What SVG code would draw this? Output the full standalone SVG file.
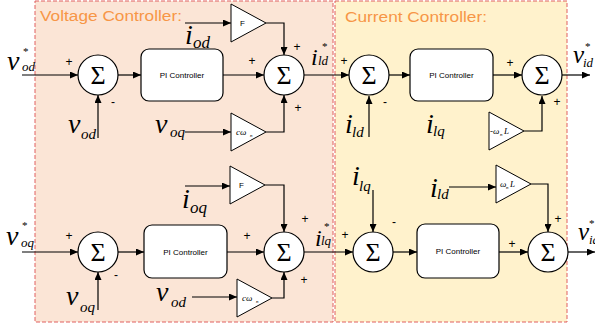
<svg xmlns="http://www.w3.org/2000/svg" width="595" height="330" viewBox="0 0 595 330">
<defs>
<marker id="ar" markerUnits="userSpaceOnUse" markerWidth="8" markerHeight="7" refX="8" refY="3.5" orient="auto"><path d="M0,0 L8,3.5 L0,7 z" fill="#000"/></marker>
<style>
.ln{stroke:#000;stroke-width:1.2;fill:none}
.ar{marker-end:url(#ar)}
.sum{fill:#fff;stroke:#000;stroke-width:1.2}
.pi{fill:#fff;stroke:#000;stroke-width:1.2}
.tri{fill:#fff;stroke:#000;stroke-width:1}
.sig{font-family:"Liberation Serif",serif;font-size:26px;text-anchor:middle}
.pit{font-family:"Liberation Sans",sans-serif;font-size:8px;text-anchor:middle}
.v{font-family:"Liberation Serif",serif;font-style:italic;font-size:28px}
.s{font-family:"Liberation Serif",serif;font-style:italic;font-size:15px}
.st{font-family:"Liberation Serif",serif;font-size:11px}
.pm{font-family:"Liberation Sans",sans-serif;font-size:12px;text-anchor:middle}
.g{font-family:"Liberation Serif",serif;font-style:italic;font-size:9px}
.gs{font-family:"Liberation Serif",serif;font-style:italic;font-size:5px}
.ttl{font-family:"Liberation Sans",sans-serif;font-size:15.5px;fill:#f79646}
</style>
</defs>
<g id="voltage-controller"><rect x="35" y="1" width="298" height="321" fill="#fbe5d6" stroke="#e06060" stroke-width="1" stroke-dasharray="4,2"/><text class="ttl" x="40" y="21" textLength="142" lengthAdjust="spacingAndGlyphs">Voltage Controller:</text></g>
<g id="current-controller"><rect x="335" y="1" width="232" height="321" fill="#fff2cc" stroke="#e06060" stroke-width="1" stroke-dasharray="4,2"/><text class="ttl" x="345" y="22" textLength="142" lengthAdjust="spacingAndGlyphs">Current Controller:</text></g>

<g id="connectors">
<path class="ln ar" d="M22,75 H78"/>
<path class="ln ar" d="M98,138 V95"/>
<path class="ln ar" d="M118,75 H141"/>
<path class="ln ar" d="M223,75 H264"/>
<path class="ln ar" d="M185,23 H231"/>
<path class="ln ar" d="M266,23 H284 V55"/>
<path class="ln ar" d="M185,132 H231"/>
<path class="ln ar" d="M266,132 H284 V95"/>
<path class="ln ar" d="M304,75 H349"/>
<path class="ln ar" d="M369,137 V96"/>
<path class="ln ar" d="M389,75 H410"/>
<path class="ln ar" d="M493,75 H522"/>
<path class="ln ar" d="M524,131 H542 V96"/>
<path class="ln ar" d="M562,75 H590"/>
<path class="ln ar" d="M22,252 H78"/>
<path class="ln ar" d="M98,310 V272"/>
<path class="ln ar" d="M118,252 H144"/>
<path class="ln ar" d="M227,252 H264"/>
<path class="ln ar" d="M185,186 H230"/>
<path class="ln ar" d="M265,185 H284 V232"/>
<path class="ln ar" d="M192,297 H237"/>
<path class="ln ar" d="M272,298 H284 V272"/>
<path class="ln ar" d="M304,252 H353"/>
<path class="ln ar" d="M373,190 V232"/>
<path class="ln ar" d="M393,252 H417"/>
<path class="ln ar" d="M449,187 H496"/>
<path class="ln ar" d="M499,252 H528"/>
<path class="ln ar" d="M531,184 H548 V232"/>
<path class="ln ar" d="M568,252 H595"/>
</g>

<g id="sum1"><circle class="sum" cx="98" cy="75" r="20"/><text class="sig" x="98" y="84">Σ</text><text class="pm" x="69" y="66">+</text><text class="pm" x="113" y="106">-</text></g>
<g id="pi1"><rect class="pi" x="141" y="49" width="82" height="52" rx="8"/><text class="pit" x="182" y="78">PI Controller</text></g>
<g id="sum2"><circle class="sum" cx="284" cy="75" r="20"/><text class="sig" x="284" y="84">Σ</text><text class="pm" x="252" y="65">+</text><text class="pm" x="297" y="51">+</text><text class="pm" x="298" y="112">+</text></g>
<g id="gainF1"><path class="tri" d="M231,4 L231,42 L266,23 z"/><text x="240" y="26" style="font-family:'Liberation Sans',sans-serif;font-size:8px">F</text></g>
<g id="gainC1"><path class="tri" d="M231,113 L231,151 L266,132 z"/><text class="g" x="236" y="135">cω</text><text class="gs" x="250" y="137">n</text></g>
<g id="sum3"><circle class="sum" cx="369" cy="75" r="20"/><text class="sig" x="369" y="84">Σ</text><text class="pm" x="344" y="65">+</text><text class="pm" x="385" y="106">-</text></g>
<g id="pi2"><rect class="pi" x="410" y="49" width="83" height="52" rx="8"/><text class="pit" x="451.5" y="78">PI Controller</text></g>
<g id="sum4"><circle class="sum" cx="542" cy="75" r="20"/><text class="sig" x="542" y="84">Σ</text><text class="pm" x="510" y="67">+</text><text class="pm" x="557" y="106">+</text></g>
<g id="gainW1"><path class="tri" d="M489,112 L489,150 L524,131 z"/><text class="g" x="490" y="134">-ω</text><text class="gs" x="500" y="136">n</text><text class="g" x="504" y="134">L</text></g>

<g id="sum5"><circle class="sum" cx="98" cy="252" r="20"/><text class="sig" x="98" y="261">Σ</text><text class="pm" x="69" y="240">+</text><text class="pm" x="116" y="279">-</text></g>
<g id="pi3"><rect class="pi" x="144" y="225" width="83" height="53" rx="8"/><text class="pit" x="185.5" y="255">PI Controller</text></g>
<g id="sum6"><circle class="sum" cx="284" cy="252" r="20"/><text class="sig" x="284" y="261">Σ</text><text class="pm" x="247" y="240">+</text><text class="pm" x="305" y="223">+</text><text class="pm" x="304" y="284">+</text></g>
<g id="gainF2"><path class="tri" d="M230,166 L230,204 L265,185 z"/><text x="239" y="188" style="font-family:'Liberation Sans',sans-serif;font-size:8px">F</text></g>
<g id="gainC2"><path class="tri" d="M237,279 L237,317 L272,298 z"/><text class="g" x="242" y="301">cω</text><text class="gs" x="256" y="303">n</text></g>
<g id="sum7"><circle class="sum" cx="373" cy="252" r="20"/><text class="sig" x="373" y="261">Σ</text><text class="pm" x="345" y="239">+</text><text class="pm" x="394" y="226">-</text></g>
<g id="pi4"><rect class="pi" x="417" y="224" width="82" height="54" rx="8"/><text class="pit" x="458" y="254">PI Controller</text></g>
<g id="sum8"><circle class="sum" cx="548" cy="252" r="20"/><text class="sig" x="548" y="261">Σ</text><text class="pm" x="512" y="248">+</text><text class="pm" x="558" y="223">+</text></g>
<g id="gainW2"><path class="tri" d="M496,165 L496,203 L531,184 z"/><text class="g" x="500" y="187">ω</text><text class="gs" x="506" y="189">n</text><text class="g" x="510" y="187">L</text></g>

<g id="labels">
<text class="v" x="7" y="70">v</text><text class="s" x="22" y="71" style="font-size:13px">od</text><text class="st" x="23" y="55">*</text>
<text class="v" x="68" y="133">v</text><text class="s" x="81" y="139">od</text>
<text class="v" x="185" y="44">i</text><text class="s" x="193" y="48" style="font-size:17px">od</text>
<text class="v" x="155" y="133">v</text><text class="s" x="170" y="137">oq</text>
<text class="v" x="311" y="65" style="font-size:24px">i</text><text class="s" x="318" y="65" style="font-size:13px">ld</text><text class="st" x="322" y="50">*</text>
<text class="v" x="345" y="133">i</text><text class="s" x="352" y="137">ld</text>
<text class="v" x="426" y="133">i</text><text class="s" x="433" y="136">lq</text>
<text class="v" x="573" y="63" style="font-size:25px">v</text><text class="s" x="583" y="67" style="font-size:13px">id</text><text class="st" x="585" y="50">*</text>

<text class="v" x="6" y="245">v</text><text class="s" x="21" y="247" style="font-size:13px">oq</text><text class="st" x="22" y="229">*</text>
<text class="v" x="66" y="305">v</text><text class="s" x="80" y="312">oq</text>
<text class="v" x="182" y="208">i</text><text class="s" x="190" y="213" style="font-size:17px">oq</text>
<text class="v" x="156" y="301">v</text><text class="s" x="171" y="307">od</text>
<text class="v" x="315" y="246" style="font-size:24px">i</text><text class="s" x="321" y="245" style="font-size:13px">lq</text><text class="st" x="324" y="230">*</text>
<text class="v" x="352" y="185">i</text><text class="s" x="359" y="191">lq</text>
<text class="v" x="430" y="197">i</text><text class="s" x="437" y="199">ld</text>
<text class="v" x="578" y="240" style="font-size:25px">v</text><text class="s" x="589" y="244" style="font-size:13px">id</text><text class="st" x="589" y="227">*</text>
</g>
</svg>
